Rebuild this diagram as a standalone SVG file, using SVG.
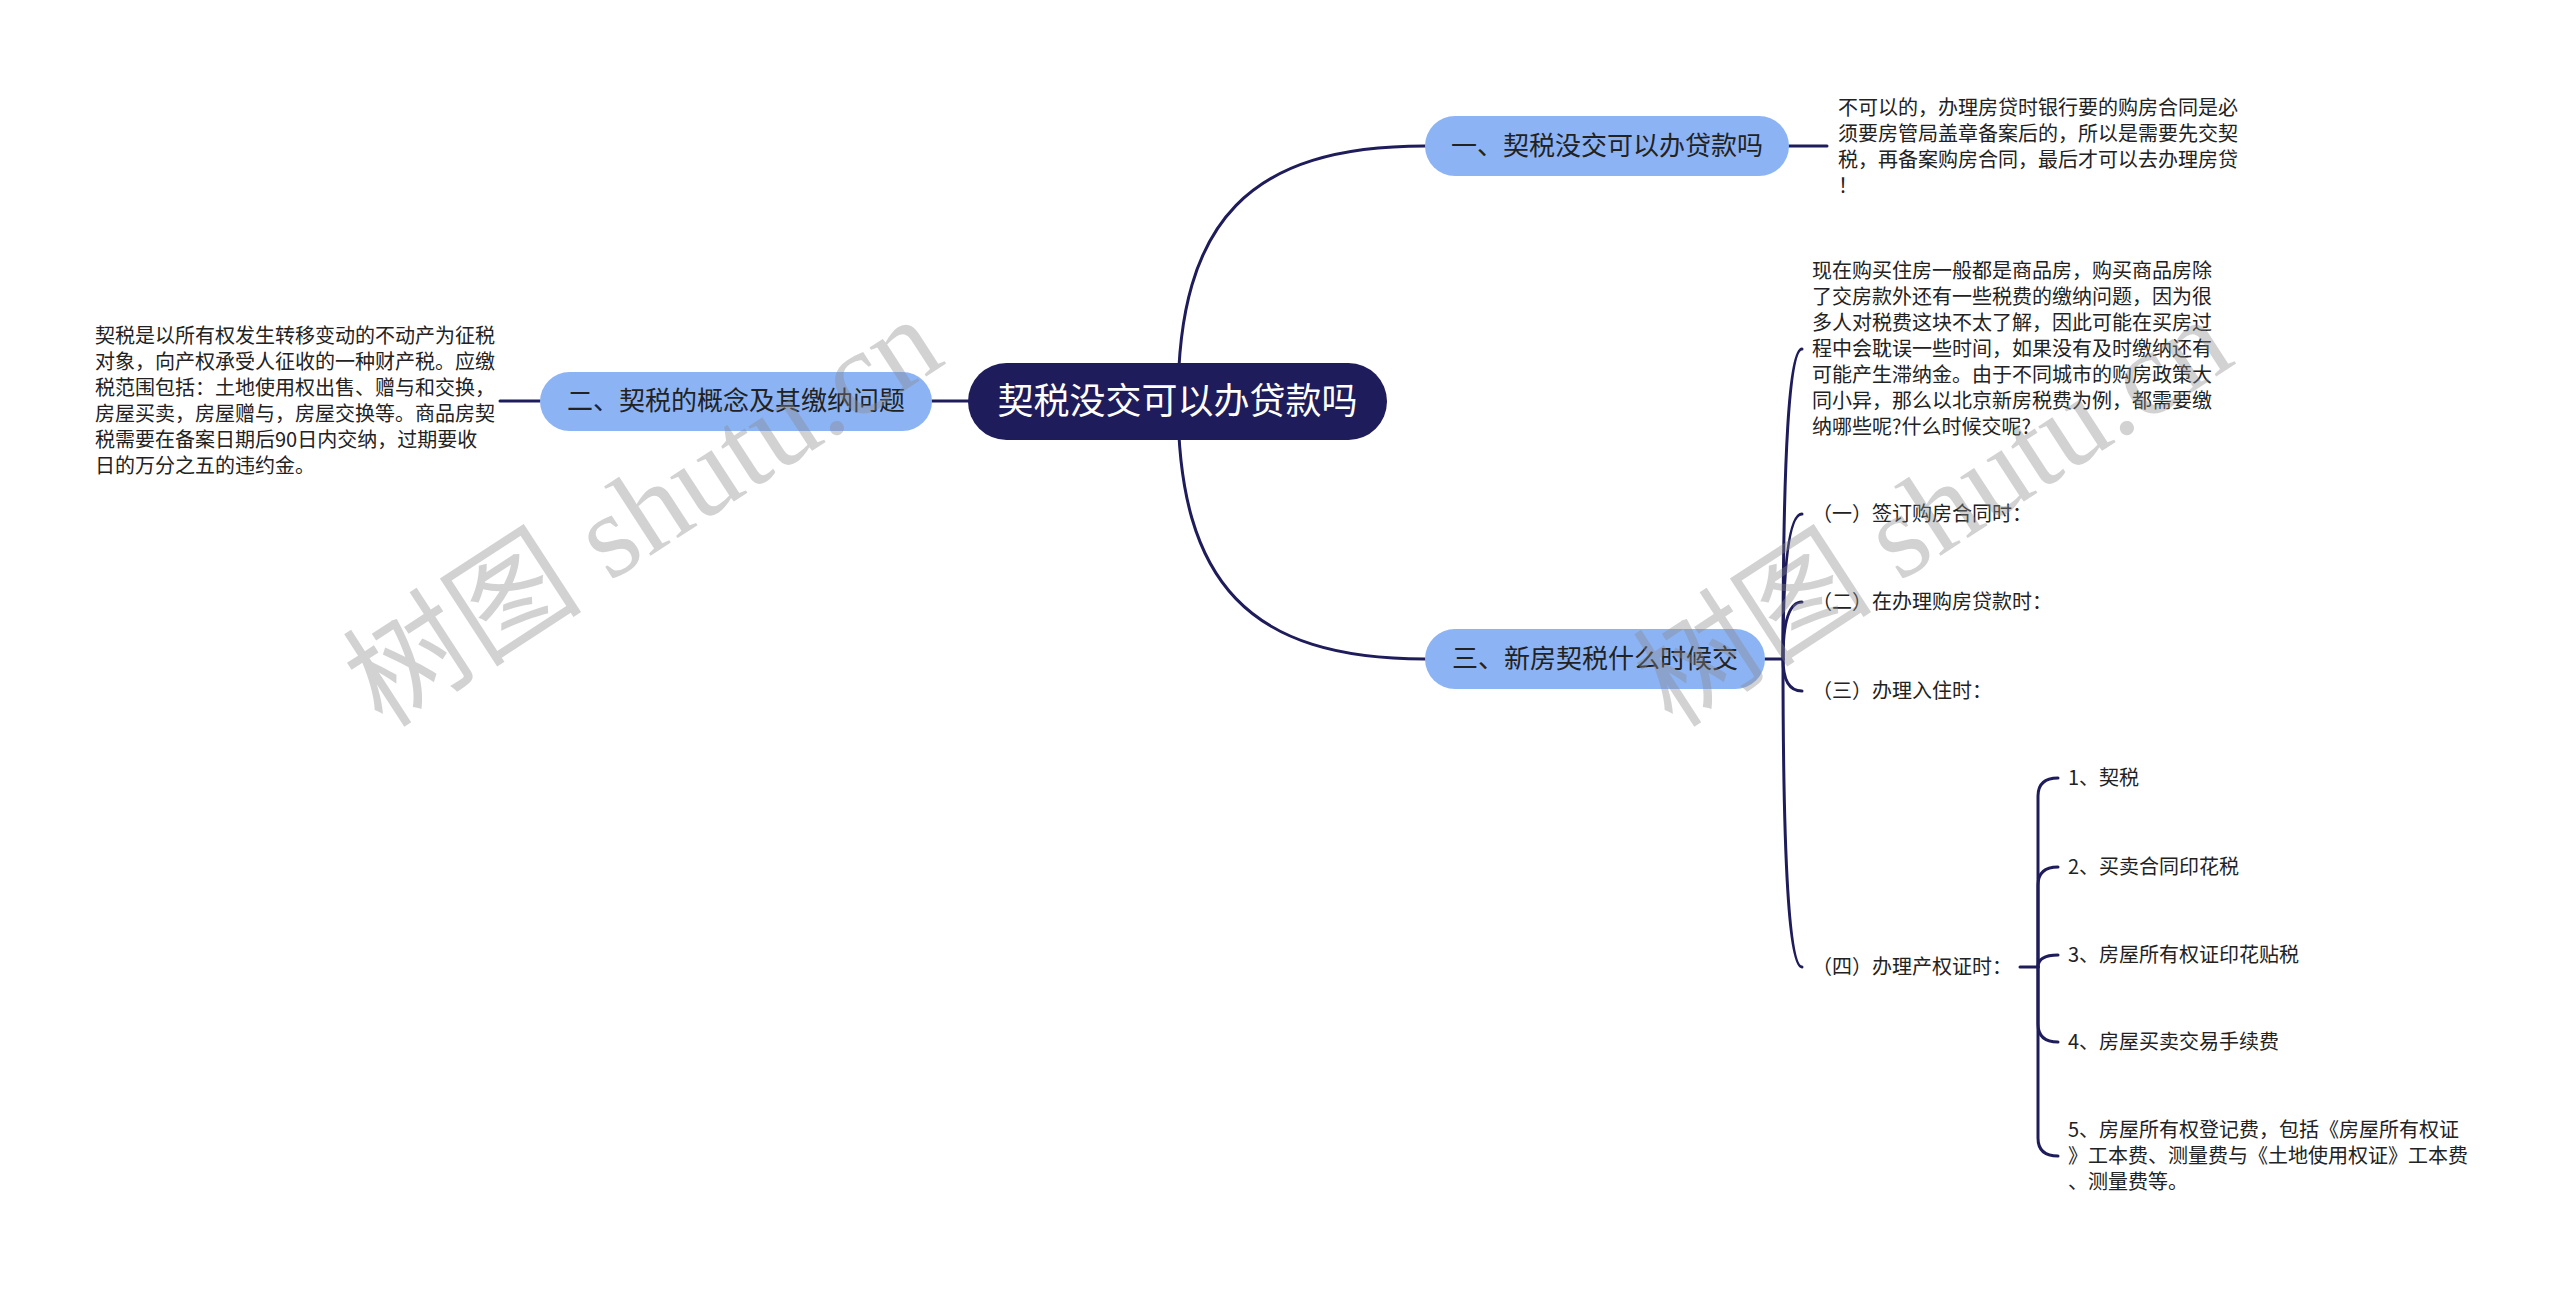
<svg xmlns="http://www.w3.org/2000/svg" width="2560" height="1289" viewBox="0 0 2560 1289">
<style>
.bg{fill:#ffffff}
.ln{fill:none;stroke:#1e1c5a;stroke-width:3;stroke-linecap:round}
.root{fill:#1e1c5a}
.sub{fill:#8cb4f5}
.rt{font-family:"Noto Sans CJK SC","Noto Sans",sans-serif;font-size:36px;fill:#ffffff;text-anchor:middle}
.st{font-family:"Noto Sans CJK SC","Noto Sans",sans-serif;font-size:26px;fill:#222222;text-anchor:middle}
.tx{font-family:"Noto Sans CJK SC","Noto Sans",sans-serif;font-size:20px;fill:#222222}
.wm{font-family:"Liberation Serif","Noto Sans CJK SC",serif;font-size:120px;fill:#8a8a8a;opacity:0.38}
</style>
<rect class="bg" x="0" y="0" width="2560" height="1289"/>
<g id="connectors">
<path class="ln" d="M1178 401 C1178 220 1250 146 1425 146"/>
<path class="ln" d="M1178 401 C1178 584 1250 659 1425 659"/>
<path class="ln" d="M968 401 L932 401"/>
<path class="ln" d="M540 401 L500 401"/>
<path class="ln" d="M1789 146 L1827 146"/>
<path class="ln" d="M1765 659 L1783 659"/>
<path class="ln" d="M1783 659 Q1783 349 1802 349"/>
<path class="ln" d="M1783 659 Q1783 514 1802 514"/>
<path class="ln" d="M1783 659 Q1783 602 1802 602"/>
<path class="ln" d="M1783 659 Q1783 691 1802 691"/>
<path class="ln" d="M1783 659 Q1783 967 1802 967"/>
<path class="ln" d="M2020 967 L2038 967"/>
<path class="ln" d="M2038 967 L2038 796 Q2038 778 2058 778"/>
<path class="ln" d="M2038 967 L2038 885 Q2038 867 2058 867"/>
<path class="ln" d="M2038 967 Q2038 955 2058 955"/>
<path class="ln" d="M2038 967 L2038 1024 Q2038 1042 2058 1042"/>
<path class="ln" d="M2038 967 L2038 1138 Q2038 1156 2058 1156"/>
</g>
<g id="root">
<rect class="root" x="968" y="363" width="419" height="77" rx="38.5"/>
<text class="rt" x="1177.5" y="414">契税没交可以办贷款吗</text>
</g>
<g id="n1">
<rect class="sub" x="1425" y="116" width="364" height="60" rx="30"/>
<text class="st" x="1607" y="155">一、契税没交可以办贷款吗</text>
</g>
<g id="n1-note">
<text class="tx" x="1838" y="115">不可以的，办理房贷时银行要的购房合同是必</text>
<text class="tx" x="1838" y="141">须要房管局盖章备案后的，所以是需要先交契</text>
<text class="tx" x="1838" y="167">税，再备案购房合同，最后才可以去办理房贷</text>
<text class="tx" x="1838" y="193">！</text>
</g>
<g id="n2">
<rect class="sub" x="540" y="372" width="392" height="59" rx="29.5"/>
<text class="st" x="736" y="410">二、契税的概念及其缴纳问题</text>
</g>
<g id="n2-note">
<text class="tx" x="95" y="343">契税是以所有权发生转移变动的不动产为征税</text>
<text class="tx" x="95" y="369">对象，向产权承受人征收的一种财产税。应缴</text>
<text class="tx" x="95" y="395">税范围包括：土地使用权出售、赠与和交换，</text>
<text class="tx" x="95" y="421">房屋买卖，房屋赠与，房屋交换等。商品房契</text>
<text class="tx" x="95" y="447">税需要在备案日期后90日内交纳，过期要收</text>
<text class="tx" x="95" y="473">日的万分之五的违约金。</text>
</g>
<g id="n3">
<rect class="sub" x="1425" y="629" width="340" height="60" rx="30"/>
<text class="st" x="1595" y="668">三、新房契税什么时候交</text>
</g>
<g id="n3-intro">
<text class="tx" x="1812" y="278">现在购买住房一般都是商品房，购买商品房除</text>
<text class="tx" x="1812" y="304">了交房款外还有一些税费的缴纳问题，因为很</text>
<text class="tx" x="1812" y="330">多人对税费这块不太了解，因此可能在买房过</text>
<text class="tx" x="1812" y="356">程中会耽误一些时间，如果没有及时缴纳还有</text>
<text class="tx" x="1812" y="382">可能产生滞纳金。由于不同城市的购房政策大</text>
<text class="tx" x="1812" y="408">同小异，那么以北京新房税费为例，都需要缴</text>
<text class="tx" x="1812" y="434">纳哪些呢?什么时候交呢?</text>
</g>
<g id="n3-1"><text class="tx" x="1812" y="521">（一）签订购房合同时：</text></g>
<g id="n3-2"><text class="tx" x="1812" y="609">（二）在办理购房贷款时：</text></g>
<g id="n3-3"><text class="tx" x="1812" y="698">（三）办理入住时：</text></g>
<g id="n3-4"><text class="tx" x="1812" y="974">（四）办理产权证时：</text></g>
<g id="f1"><text class="tx" x="2068" y="785">1、契税</text></g>
<g id="f2"><text class="tx" x="2068" y="874">2、买卖合同印花税</text></g>
<g id="f3"><text class="tx" x="2068" y="962">3、房屋所有权证印花贴税</text></g>
<g id="f4"><text class="tx" x="2068" y="1049">4、房屋买卖交易手续费</text></g>
<g id="f5">
<text class="tx" x="2068" y="1137">5、房屋所有权登记费，包括《房屋所有权证</text>
<text class="tx" x="2068" y="1163">》工本费、测量费与《土地使用权证》工本费</text>
<text class="tx" x="2068" y="1189">、测量费等。</text>
</g>
<g id="watermarks">
<text class="wm" x="645" y="552" text-anchor="middle" transform="rotate(-33 645 515)">树图 shutu.cn</text>
<text class="wm" x="1935" y="552" text-anchor="middle" transform="rotate(-33 1935 515)">树图 shutu.cn</text>
</g>
</svg>
